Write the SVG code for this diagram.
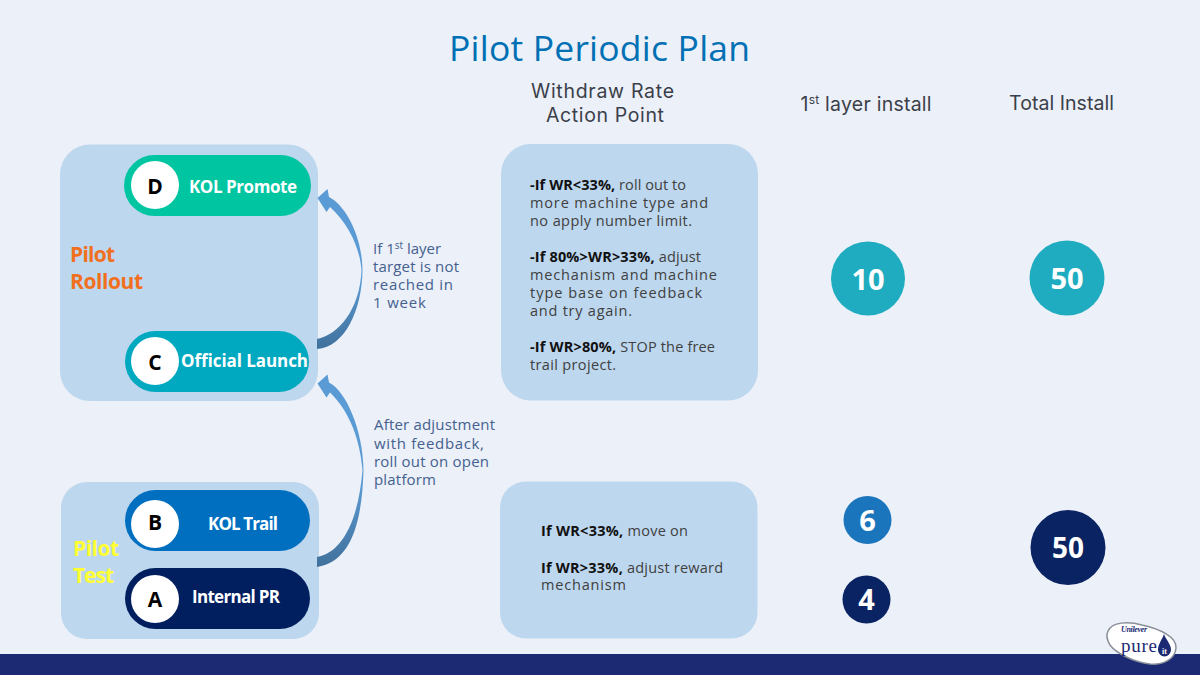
<svg xmlns="http://www.w3.org/2000/svg" width="1200" height="675" viewBox="0 0 1200 675">
<style>
text{font-family:"Open Sans","Noto Sans","Liberation Sans",sans-serif}
.panel{fill:#bdd7ee}
.disc{fill:#fff}
.let{font-size:21px;font-weight:700;fill:#000;text-anchor:middle}
.pill{font-size:17px;font-weight:700;fill:#fff}
text.head{font-family:Inter,"Open Sans",sans-serif;font-size:19.5px;fill:#3a3f4a;text-anchor:middle}
.note{font-size:15px;fill:#44618f}
.body{font-size:14.5px;fill:#404040}
.body tspan.b{font-weight:700;fill:#111}
.num{font-weight:700;fill:#fff;text-anchor:middle}
.side{font-size:21px;font-weight:700}
</style>
<defs>
<linearGradient id="a1" x1="0" y1="0" x2="0" y2="1"><stop offset="0" stop-color="#5b9bd5"/><stop offset="0.55" stop-color="#5b9bd5"/><stop offset="1" stop-color="#41719c"/></linearGradient>
</defs>
<rect width="1200" height="675" fill="#ecf0f8"/>
<rect y="654" width="1200" height="21" fill="#1c2a74"/>
<text x="449" y="61" font-size="35.5px" fill="#0070b4" textLength="301">Pilot Periodic Plan</text>
<text class="head" x="602.500" y="98" textLength="143">Withdraw Rate</text>
<text class="head" x="605" y="122" textLength="118">Action Point</text>
<text class="head" x="866" y="111" textLength="131">1<tspan font-size="12px" dy="-7">st</tspan><tspan dy="7"> layer install</tspan></text>
<text class="head" x="1061.500" y="110" textLength="105">Total Install</text>

<g id="panel-rollout">
<rect class="panel" x="60" y="144.500" width="258" height="256.500" rx="30"/>
<text class="side" x="70" y="262" fill="#f0701e" textLength="45">Pilot</text>
<text class="side" x="70" y="289" fill="#f0701e" textLength="73">Rollout</text>
</g>
<g id="panel-test">
<rect class="panel" x="61" y="482" width="258" height="157" rx="26"/>
<text class="side" x="73" y="556" fill="#ffff33" textLength="46">Pilot</text>
<text class="side" x="73" y="583" fill="#ffff33" textLength="41">Test</text>
</g>
<g id="node-d">
<rect x="124" y="155" width="187" height="61" rx="30.500" fill="#00c5a1"/>
<circle class="disc" cx="155" cy="185" r="24"/>
<text class="let" x="155" y="194">D</text>
<text class="pill" x="189" y="193" textLength="108">KOL Promote</text>
</g>
<g id="node-c">
<rect x="125" y="331" width="184" height="61" rx="30.500" fill="#00a9bf"/>
<circle class="disc" cx="155" cy="361" r="24"/>
<text class="let" x="155" y="370">C</text>
<text class="pill" x="181" y="367" textLength="127">Official Launch</text>
</g>
<g id="node-b">
<rect x="125" y="490" width="185" height="61" rx="30.500" fill="#006fc0"/>
<circle class="disc" cx="155" cy="524" r="24"/>
<text class="let" x="155" y="530">B</text>
<text class="pill" x="208" y="530" textLength="70">KOL Trail</text>
</g>
<g id="node-a">
<rect x="125" y="568" width="185" height="61" rx="30.500" fill="#011f5f"/>
<circle class="disc" cx="155" cy="599" r="24"/>
<text class="let" x="155" y="607">A</text>
<text class="pill" x="192" y="603" textLength="88">Internal PR</text>
</g>

<g id="connectors">
<path d="M317.500 198 L327.500 189 L329 197 C345 205 362 235 362.500 270 C362 310 345 347 317 349 L317 339 C338 335 360 310 361.500 270 C360 250 350 225 330 207 L326.500 212 Z" fill="url(#a1)"/>
<path d="M317.500 383.500 L327.500 374.500 L329 382.500 C346 391 363 430 363.500 470 C362 525 350 562 317 567 L317 557 C340 553 358 525 362.500 470 C360 440 350 412 330 392.500 L326.500 397.500 Z" fill="url(#a1)"/>
</g>

<g id="note-1">
<text class="note"><tspan x="373" y="254">If 1</tspan><tspan font-size="10px" dy="-5">st</tspan><tspan dy="5"> layer</tspan><tspan x="373" y="272" textLength="86">target is not</tspan><tspan x="373" y="290" textLength="80">reached in</tspan><tspan x="373" y="308" textLength="53">1 week</tspan></text>
</g>
<g id="note-2">
<text class="note"><tspan x="374" y="430" textLength="121">After adjustment</tspan><tspan x="374" y="449" textLength="110">with feedback,</tspan><tspan x="374" y="467" textLength="115">roll out on open</tspan><tspan x="374" y="485" textLength="62">platform</tspan></text>
</g>

<g id="action-top">
<rect class="panel" x="501" y="144" width="257" height="256.500" rx="30"/>
<text class="body">
<tspan x="530" y="190" textLength="156"><tspan class="b">-If WR&lt;33%,</tspan> roll out to</tspan>
<tspan x="530" y="208" textLength="178">more machine type and</tspan>
<tspan x="530" y="226" textLength="162">no apply number limit.</tspan>
<tspan x="530" y="262" textLength="171"><tspan class="b">-If 80%&gt;WR&gt;33%,</tspan> adjust</tspan>
<tspan x="530" y="280" textLength="187">mechanism and machine</tspan>
<tspan x="530" y="298" textLength="172">type base on feedback</tspan>
<tspan x="530" y="316" textLength="102">and try again.</tspan>
<tspan x="530" y="352" textLength="185"><tspan class="b">-If WR&gt;80%,</tspan> STOP the free</tspan>
<tspan x="530" y="370" textLength="86">trail project.</tspan>
</text>
</g>
<g id="action-bottom">
<rect class="panel" x="500" y="481.500" width="257.500" height="157" rx="26"/>
<text class="body">
<tspan x="541" y="536" textLength="147"><tspan class="b">If WR&lt;33%,</tspan> move on</tspan>
<tspan x="541" y="573" textLength="182"><tspan class="b">If WR&gt;33%,</tspan> adjust reward</tspan>
<tspan x="541" y="590" textLength="85">mechanism</tspan>
</text>
</g>

<g id="num-10"><circle cx="868" cy="278.500" r="37" fill="#20acc0"/><text class="num" x="868" y="289.500" font-size="29px">10</text></g>
<g id="num-50a"><circle cx="1067" cy="278" r="37.500" fill="#20acc0"/><text class="num" x="1067" y="288.500" font-size="29px">50</text></g>
<g id="num-6"><circle cx="867.500" cy="520" r="24" fill="#1b75bc"/><text class="num" x="867.500" y="531" font-size="29px">6</text></g>
<g id="num-4"><circle cx="866.500" cy="599.500" r="24" fill="#0a2463"/><text class="num" x="866.500" y="610" font-size="29px">4</text></g>
<g id="num-50b"><circle cx="1068" cy="547.500" r="37.500" fill="#0a2463"/><text class="num" x="1068" y="558" font-size="28px">50</text></g>

<g id="logo">
<path d="M1108 631 C1112 622 1128 621 1142 625 C1160 629 1177 637 1176 648 C1175 660 1162 665 1150 664 C1133 662 1116 653 1110 645 C1107 640 1106 635 1108 631Z" fill="#fff" stroke="#8a8f9a" stroke-width="1.500"/>
<text x="1121" y="632" font-size="8px" font-style="italic" font-weight="700" fill="#1c2a74" style="font-family:'Liberation Serif',serif" textLength="26">Unilever</text>
<text x="1121" y="652" font-size="19px" fill="#1c2a74" style="font-family:'Liberation Serif',serif" textLength="36">pure</text>
<path d="M1164 634 C1166 640 1171 644 1171 650 A6.500 6.500 0 0 1 1158 650 C1158 644 1162 640 1164 634Z" fill="#1c2a74"/>
<text x="1164.500" y="654" font-size="8px" font-weight="700" fill="#fff" text-anchor="middle" style="font-family:'Liberation Serif',serif">it</text>
</g>
</svg>
